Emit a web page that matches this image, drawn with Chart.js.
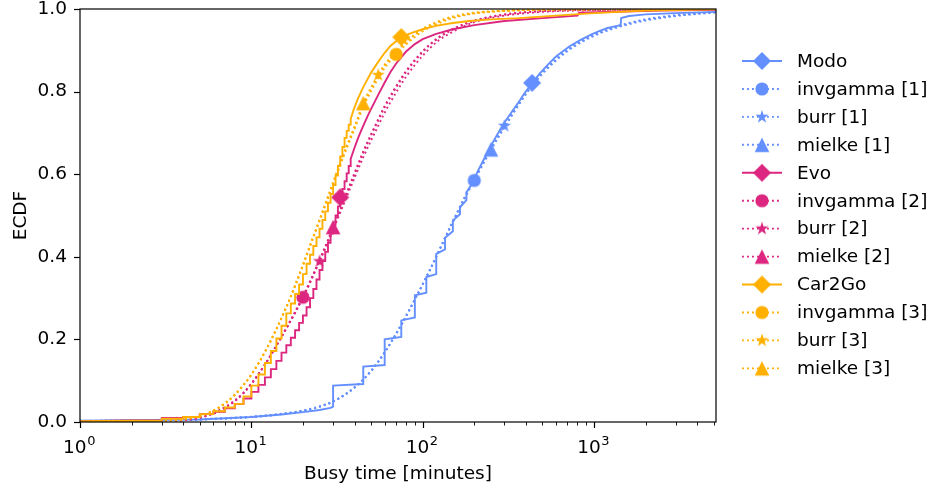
<!DOCTYPE html>
<html>
<head>
<meta charset="utf-8">
<script src="https://cdn.jsdelivr.net/npm/chart.js@4.4.1/dist/chart.umd.min.js"></script>
<style>
  html, body { margin: 0; padding: 0; background: #fff; }
  #chart { display: block; }
</style>
</head>
<body>
<canvas id="chart" width="933" height="491"></canvas>
<script>
const BLUE = "#648FFF", PINK = "#DC267F", GOLD = "#FFB000";

// empirical ECDFs (busy time in minutes -> ECDF)
const modoX = [1, 5, 10, 15, 20, 25, 29, 30, 45, 60, 75, 90, 105, 120, 135, 150, 165, 180, 195,
  210, 225, 240, 255, 270, 285, 300, 330, 360, 390, 420, 435, 450, 480,
  540, 600, 720, 840, 960, 1080, 1200, 1320, 1430, 1440, 1600, 2000, 3000, 5150];
const modoY = [0.003, 0.006, 0.012, 0.018, 0.024, 0.029, 0.034, 0.088, 0.134, 0.200, 0.246, 0.307, 0.351, 0.407, 0.446, 0.488, 0.520, 0.556, 0.578,
  0.608, 0.632, 0.655, 0.675, 0.693, 0.710, 0.725, 0.750, 0.772, 0.794, 0.812, 0.821, 0.828, 0.843,
  0.866, 0.885, 0.910, 0.926, 0.938, 0.947, 0.954, 0.958, 0.961, 0.978, 0.983, 0.987, 0.990, 0.993];
// Modo jumps every 15 minutes; value just before each jump
const modoStepX = [30, 45, 60, 75, 90, 105, 120, 135, 150, 165, 180];
const modoStepPre = [0.037, 0.092, 0.138, 0.206, 0.253, 0.313, 0.358, 0.418, 0.462, 0.503, 0.537];

const evoX = [1, 2, 3, 4, 5, 6, 7, 8, 9, 10, 11, 12, 13, 14, 15, 16, 17, 18, 19, 20,
  21, 22, 23, 24, 25, 26, 27, 28, 29, 30, 31, 32, 33, 34, 35, 36, 37, 38,
  40, 42, 44, 46, 48, 50, 55, 60, 65, 70, 80, 90, 100,
  120, 150, 200, 300, 500, 800, 820, 1500, 2500, 5150];
const evoY = [0.002, 0.004, 0.010, 0.012, 0.019, 0.025, 0.033, 0.044, 0.057, 0.073,
  0.090, 0.108, 0.128, 0.148, 0.168, 0.186, 0.204, 0.222, 0.240, 0.258,
  0.278, 0.300, 0.322, 0.345, 0.368, 0.390, 0.412, 0.434, 0.456, 0.478,
  0.500, 0.522, 0.544, 0.564, 0.583, 0.602, 0.620, 0.637,
  0.664, 0.688, 0.708, 0.726, 0.743, 0.758, 0.792, 0.822, 0.848, 0.868, 0.897, 0.915, 0.927,
  0.940, 0.951, 0.961, 0.971, 0.978, 0.984, 0.991, 0.994, 0.996, 0.998];

const c2gX = [1, 2, 3, 4, 5, 6, 7, 8, 9, 10, 11, 12, 13, 14, 15, 16, 17, 18, 19, 20,
  21, 22, 23, 24, 25, 26, 27, 28, 29, 30, 31, 32, 33, 34, 35, 36, 37, 38,
  40, 42, 45, 50, 55, 60, 65, 70, 75, 87, 100, 119, 150, 187, 250, 365, 600, 1000, 2000, 5150];
const c2gY = [0.002, 0.003, 0.008, 0.012, 0.019, 0.026, 0.035, 0.044, 0.062, 0.088,
  0.115, 0.143, 0.172, 0.202, 0.233, 0.263, 0.287, 0.310, 0.333, 0.358,
  0.383, 0.405, 0.426, 0.447, 0.468, 0.489, 0.510, 0.531, 0.552, 0.574,
  0.597, 0.620, 0.643, 0.666, 0.688, 0.705, 0.720, 0.734,
  0.762, 0.784, 0.811, 0.846, 0.872, 0.894, 0.911, 0.922, 0.932, 0.943,
  0.951, 0.959, 0.966, 0.971, 0.975, 0.978, 0.984, 0.990, 0.996, 0.999];
// Evo and Car2Go jump every minute up to here
const minuteSteps = [3, 38];

// fitted distributions
const modoFitX = [1, 3, 5, 10, 15, 20, 25, 30, 40, 50, 60, 75, 90, 110, 130, 150, 175, 200,
  250, 300, 400, 500, 700, 1000, 1500, 2000, 3000, 5150];
const modoInvgamma = [0.002, 0.004, 0.006, 0.012, 0.019, 0.027, 0.037, 0.050, 0.084, 0.124, 0.169, 0.235, 0.296, 0.367,
  0.430, 0.484, 0.540, 0.585, 0.658, 0.713, 0.793, 0.843, 0.898, 0.935, 0.960, 0.972, 0.983, 0.992];
const modoBurr = [0.003, 0.005, 0.007, 0.013, 0.020, 0.028, 0.038, 0.050, 0.083, 0.123, 0.168, 0.235, 0.297, 0.368,
  0.432, 0.486, 0.543, 0.589, 0.662, 0.717, 0.797, 0.847, 0.901, 0.938, 0.963, 0.975, 0.985, 0.993];
const modoMielke = [0.002, 0.004, 0.006, 0.012, 0.019, 0.027, 0.037, 0.049, 0.083, 0.124, 0.169, 0.236, 0.297, 0.368,
  0.431, 0.485, 0.541, 0.586, 0.660, 0.715, 0.795, 0.845, 0.900, 0.937, 0.962, 0.974, 0.984, 0.992];

const shortFitX = [1, 2, 3, 4, 5, 6, 7, 8, 9, 10, 12, 14, 16, 18, 20, 22, 25, 28, 30, 33, 36,
  40, 45, 50, 55, 60, 70, 80, 100, 125, 150, 200, 300, 500, 1000, 5150];
const evoInvgamma = [0.0, 0.0, 0.001, 0.004, 0.010, 0.020, 0.034, 0.050, 0.070, 0.092,
  0.139, 0.185, 0.227, 0.265, 0.302, 0.338, 0.390, 0.437, 0.468, 0.512,
  0.552, 0.600, 0.652, 0.694, 0.730, 0.762, 0.810, 0.847, 0.896, 0.931,
  0.950, 0.971, 0.986, 0.995, 0.998, 1.0];
const evoBurr = [0.0, 0.0, 0.002, 0.005, 0.012, 0.022, 0.036, 0.052, 0.071, 0.093,
  0.139, 0.184, 0.226, 0.264, 0.301, 0.337, 0.389, 0.435, 0.465, 0.507,
  0.545, 0.591, 0.641, 0.682, 0.717, 0.749, 0.798, 0.836, 0.887, 0.925,
  0.945, 0.968, 0.984, 0.993, 0.997, 1.0];
const evoMielke = [0.0, 0.0, 0.001, 0.004, 0.011, 0.021, 0.035, 0.051, 0.070, 0.092,
  0.139, 0.185, 0.228, 0.267, 0.305, 0.341, 0.393, 0.441, 0.472, 0.515,
  0.555, 0.603, 0.655, 0.697, 0.733, 0.765, 0.813, 0.850, 0.898, 0.933,
  0.952, 0.972, 0.987, 0.995, 0.998, 1.0];
const c2gInvgamma = [0.0, 0.0, 0.002, 0.006, 0.014, 0.027, 0.044, 0.065, 0.089, 0.114,
  0.169, 0.224, 0.277, 0.329, 0.378, 0.425, 0.486, 0.541, 0.575, 0.621,
  0.662, 0.709, 0.763, 0.801, 0.832, 0.857, 0.890, 0.914, 0.946, 0.966,
  0.978, 0.989, 0.995, 0.998, 0.999, 1.0];
const c2gBurr = [0.0, 0.001, 0.003, 0.007, 0.015, 0.028, 0.045, 0.066, 0.090, 0.115,
  0.170, 0.226, 0.279, 0.331, 0.381, 0.428, 0.490, 0.546, 0.580, 0.627,
  0.668, 0.715, 0.770, 0.808, 0.840, 0.865, 0.898, 0.921, 0.952, 0.971,
  0.982, 0.991, 0.996, 0.999, 1.0, 1.0];
const c2gMielke = [0.0, 0.0, 0.002, 0.006, 0.015, 0.027, 0.045, 0.066, 0.090, 0.115,
  0.170, 0.225, 0.278, 0.330, 0.380, 0.427, 0.489, 0.545, 0.579, 0.626,
  0.667, 0.714, 0.772, 0.810, 0.840, 0.864, 0.896, 0.919, 0.950, 0.969,
  0.980, 0.990, 0.996, 0.998, 0.999, 1.0];

// axis ticks
const xMajor = [1, 10, 100, 1000];
const xTickBase = "10";
const xTickExp = ["0", "1", "2", "3"];
const xMax = 5150;

function pairs(xs, ys) {
  return xs.map((x, i) => ({ x: x, y: ys[i] }));
}

// flat steps inside [range[0], range[1]], plain segments elsewhere
function ecdfPoints(xs, ys, range) {
  const pts = [];
  xs.forEach((x, i) => {
    if (i > 0 && x >= range[0] && x <= range[1]) pts.push({ x: x, y: ys[i - 1], corner: true });
    pts.push({ x: x, y: ys[i] });
  });
  return pts;
}

// steps with a known value just before each jump
function ecdfWithPre(xs, ys, stepX, stepPre) {
  const pts = [];
  xs.forEach((x, i) => {
    const k = stepX.indexOf(x);
    if (k >= 0) pts.push({ x: x, y: stepPre[k], corner: true });
    pts.push({ x: x, y: ys[i] });
  });
  return pts;
}

function makeMarker(shape, color) {
  const s = 22, c = s / 2;
  const cv = document.createElement("canvas");
  cv.width = cv.height = s;
  const g = cv.getContext("2d");
  g.fillStyle = color;
  g.beginPath();
  if (shape === "diamond") {
    const r = 9;
    g.moveTo(c, c - r); g.lineTo(c + r, c); g.lineTo(c, c + r); g.lineTo(c - r, c);
  } else if (shape === "circle") {
    g.arc(c, c, 6.6, 0, Math.PI * 2);
  } else if (shape === "triangle") {
    const r = 7.3;
    g.moveTo(c, c - r); g.lineTo(c + r, c + r); g.lineTo(c - r, c + r);
  } else {
    for (let k = 0; k < 10; k++) {
      const rr = k % 2 ? 7 * 0.382 : 7;
      const a = -Math.PI / 2 + k * Math.PI / 5;
      g.lineTo(c + rr * Math.cos(a), c + rr * Math.sin(a));
    }
  }
  g.closePath();
  g.fill();
  return cv;
}

const series = [
  { label: "Modo", color: BLUE, data: ecdfWithPre(modoX, modoY, modoStepX, modoStepPre), shape: "diamond", markAt: 435 },
  { label: "invgamma [1]", color: BLUE, data: pairs(modoFitX, modoInvgamma), shape: "circle", markAt: 200, fit: true },
  { label: "burr [1]", color: BLUE, data: pairs(modoFitX, modoBurr), shape: "star", markAt: 300, fit: true },
  { label: "mielke [1]", color: BLUE, data: pairs(modoFitX, modoMielke), shape: "triangle", markAt: 250, fit: true },
  { label: "Evo", color: PINK, data: ecdfPoints(evoX, evoY, minuteSteps), shape: "diamond", markAt: 33 },
  { label: "invgamma [2]", color: PINK, data: pairs(shortFitX, evoInvgamma), shape: "circle", markAt: 20, fit: true },
  { label: "burr [2]", color: PINK, data: pairs(shortFitX, evoBurr), shape: "star", markAt: 25, fit: true },
  { label: "mielke [2]", color: PINK, data: pairs(shortFitX, evoMielke), shape: "triangle", markAt: 30, fit: true },
  { label: "Car2Go", color: GOLD, data: ecdfPoints(c2gX, c2gY, minuteSteps), shape: "diamond", markAt: 75 },
  { label: "invgamma [3]", color: GOLD, data: pairs(shortFitX, c2gInvgamma), shape: "circle", markAt: 70, fit: true },
  { label: "burr [3]", color: GOLD, data: pairs(shortFitX, c2gBurr), shape: "star", markAt: 55, fit: true },
  { label: "mielke [3]", color: GOLD, data: pairs(shortFitX, c2gMielke), shape: "triangle", markAt: 45, fit: true }
];
series.forEach(s => { s.img = makeMarker(s.shape, s.color); });

const LW = 1.9, DOT = [1.9, 3.1];
const FONT = "18.5px 'DejaVu Sans'";
const SUP_FONT = "13px 'DejaVu Sans'";

const datasets = series.map((s, i) => ({
  label: s.label,
  data: s.data,
  borderColor: s.color,
  backgroundColor: s.color,
  borderWidth: LW,
  borderDash: s.fit ? DOT : [],
  tension: 0,
  cubicInterpolationMode: s.fit ? "monotone" : "default",
  pointStyle: s.img,
  pointRadius: ctx => (ctx.raw && !ctx.raw.corner && ctx.raw.x === s.markAt ? 8 : 0),
  pointHoverRadius: 0,
  order: series.length - i
}));

const xTickValues = [];
xMajor.forEach(d => { for (let m = 1; m <= 9; m++) if (d * m <= xMax) xTickValues.push(d * m); });

const frameAndLegend = {
  id: "frameAndLegend",
  afterDraw(chart) {
    const { ctx, chartArea: a, scales } = chart;
    ctx.save();
    ctx.strokeStyle = "#000";
    ctx.lineWidth = 1.2;
    ctx.strokeRect(a.left, a.top, a.right - a.left, a.bottom - a.top);
    // x ticks, major long and minor short
    xTickValues.forEach(v => {
      const px = Math.round(scales.x.getPixelForValue(v)) + 0.5;
      const major = xMajor.includes(v);
      ctx.lineWidth = major ? 1.2 : 0.9;
      ctx.beginPath();
      ctx.moveTo(px, a.bottom);
      ctx.lineTo(px, a.bottom + (major ? 6 : 3.5));
      ctx.stroke();
    });
    // x tick labels as 10 with a raised exponent
    ctx.fillStyle = "#000";
    ctx.textBaseline = "alphabetic";
    ctx.textAlign = "left";
    xMajor.forEach((v, k) => {
      const px = scales.x.getPixelForValue(v);
      ctx.font = FONT;
      const wb = ctx.measureText(xTickBase).width;
      ctx.font = SUP_FONT;
      const we = ctx.measureText(xTickExp[k]).width;
      const left = px - (wb + we) / 2 - 1;
      ctx.font = FONT;
      ctx.fillText(xTickBase, left, 453);
      ctx.font = SUP_FONT;
      ctx.fillText(xTickExp[k], left + wb + 0.5, 445);
    });
    scales.y.ticks.forEach(t => {
      const py = Math.round(scales.y.getPixelForValue(t.value)) + 0.5;
      ctx.lineWidth = 1.2;
      ctx.beginPath();
      ctx.moveTo(a.left, py);
      ctx.lineTo(a.left - 6, py);
      ctx.stroke();
    });
    // legend
    const x0 = 742, x1 = 782, mx = 762, tx = 797, y0 = 61, dy = 27.94;
    ctx.font = FONT;
    ctx.textBaseline = "middle";
    series.forEach((s, i) => {
      const y = y0 + i * dy;
      ctx.strokeStyle = s.color;
      ctx.lineWidth = LW;
      ctx.setLineDash(s.fit ? DOT : []);
      ctx.beginPath();
      ctx.moveTo(x0, y);
      ctx.lineTo(x1, y);
      ctx.stroke();
      ctx.setLineDash([]);
      ctx.drawImage(s.img, mx - s.img.width / 2, y - s.img.height / 2);
      ctx.fillStyle = "#000";
      ctx.fillText(s.label, tx, y + 1);
    });
    ctx.restore();
  }
};

Chart.defaults.font.family = "'DejaVu Sans'";
Chart.defaults.font.size = 18.5;
Chart.defaults.color = "#000";

new Chart(document.getElementById("chart"), {
  type: "line",
  data: { datasets: datasets },
  options: {
    responsive: false,
    animation: false,
    devicePixelRatio: 1,
    layout: { padding: { top: 9, right: 217, left: 0, bottom: 0 } },
    plugins: { legend: { display: false }, tooltip: { enabled: false } },
    scales: {
      x: {
        type: "logarithmic",
        min: 1,
        max: xMax,
        afterBuildTicks: s => { s.ticks = xTickValues.map(v => ({ value: v })); },
        afterFit: s => { s.height = 69; s.paddingLeft = 0; s.paddingRight = 0; },
        border: { display: false },
        grid: { drawOnChartArea: false, tickLength: 6, tickColor: "rgba(0,0,0,0)" },
        ticks: { autoSkip: false, maxRotation: 0, padding: 10, callback: () => "" },
        title: { display: true, text: "Busy time [minutes]", padding: { top: 0, bottom: 6 } }
      },
      y: {
        min: 0,
        max: 1,
        afterFit: s => { s.width = 80; s.paddingTop = 0; s.paddingBottom = 0; },
        border: { display: false },
        grid: { drawOnChartArea: false, tickLength: 6, tickColor: "rgba(0,0,0,0)" },
        ticks: { stepSize: 0.2, padding: 7, callback: v => v.toFixed(1) },
        title: { display: true, text: "ECDF", padding: { top: 10, bottom: 0 } }
      }
    }
  },
  plugins: [frameAndLegend]
});
</script>
</body>
</html>
